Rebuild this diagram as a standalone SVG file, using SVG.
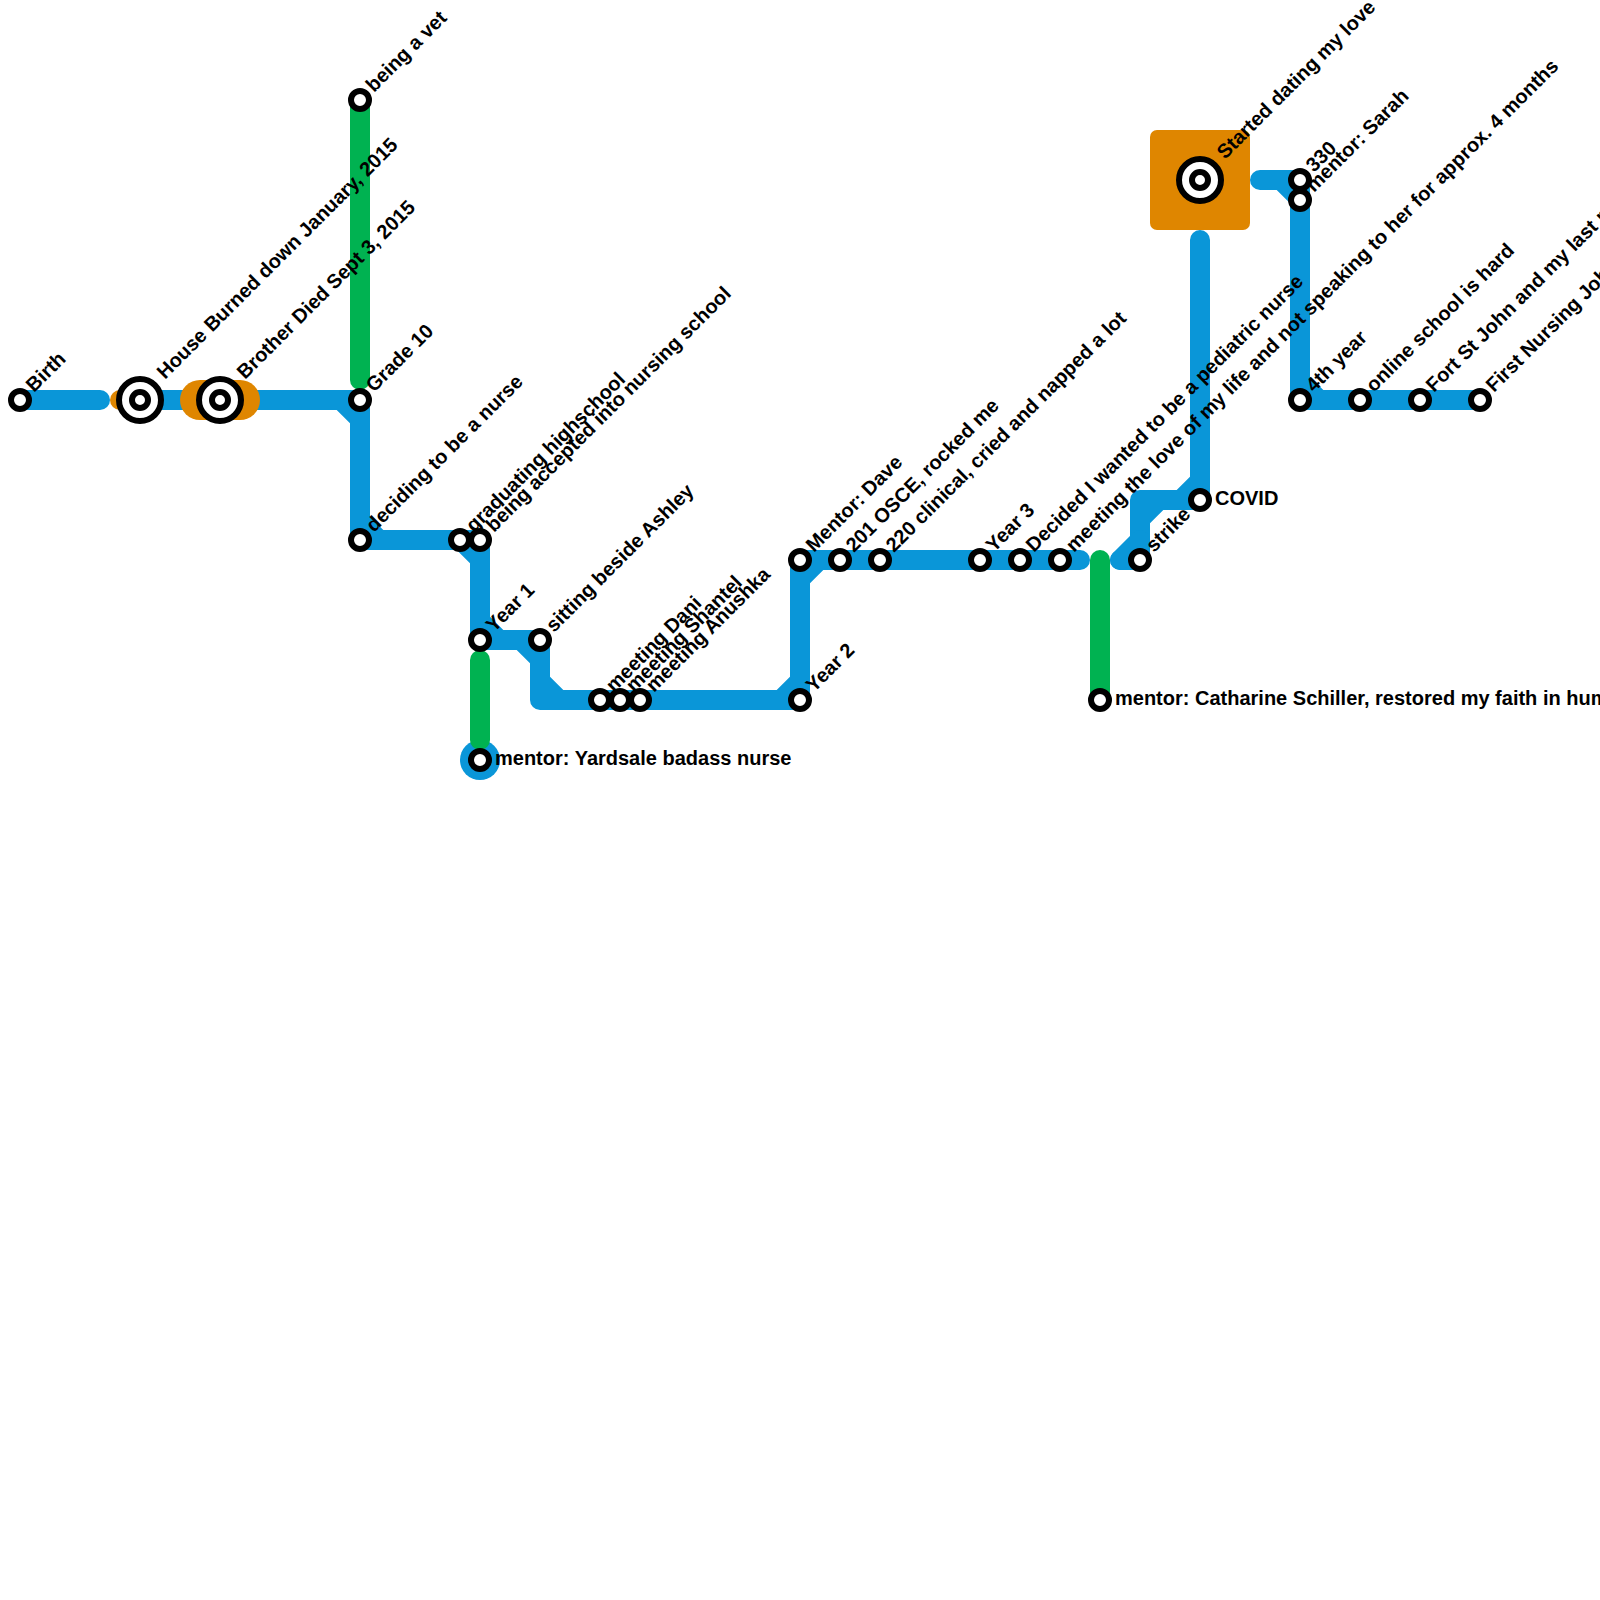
<svg xmlns="http://www.w3.org/2000/svg" width="1600" height="1600" viewBox="0 0 1600 1600">
<style>
.bl{fill:none;stroke:#0a96d8;stroke-width:20;stroke-linecap:round;stroke-linejoin:round}
.gr{fill:none;stroke:#00b251;stroke-width:20;stroke-linecap:round;stroke-linejoin:round}
.or{fill:none;stroke:#df8600;stroke-linecap:round;stroke-linejoin:round}
.fb{fill:#0a96d8}
.s{fill:#fff;stroke:#000;stroke-width:6}
text{font-family:"Liberation Sans",Arial,sans-serif;font-weight:700;font-size:20px;fill:#000}
</style>
<defs>
<g id="st"><circle class="s" r="9"/></g>
<g id="ix"><circle class="s" r="21"/><circle class="s" r="8"/></g>
</defs>
<g id="connectors">
<path class="bl" d="M20 400H100"/>
<path class="bl" d="M140 400H200"/>
<path class="bl" d="M240 400H360V540H480V640H540V700H800V560H1080"/>
<path class="bl" d="M1120 560H1140V500H1200V240"/>
<path class="bl" d="M1120 560L1140 540"/>
<path class="bl" d="M1260 180H1300V400H1480"/>
<path class="fb" d="M350 410V423.3L336.700 410ZM370 530V516.700L383.300 530ZM470 550V563.300L456.700 550ZM490 630V616.700L503.300 630ZM530 650V663.300L516.700 650ZM550 690V676.700L563.300 690ZM790 690V676.700L776.700 690ZM810 570V583.300L823.300 570ZM1150 510V523.300L1163.300 510ZM1190 490V476.700L1176.700 490ZM1290 190V203.300L1276.700 190ZM1310 390V376.700L1323.300 390Z"/>
<path class="or" stroke-width="20" d="M120 400H140"/>
<path class="or" stroke-width="40" d="M200 400H240"/>
<rect x="1150" y="130" width="100" height="100" rx="7" fill="#df8600"/>
<circle cx="480" cy="760" r="20" class="fb"/>
<path class="gr" d="M360 100V380"/>
<path class="gr" d="M480 660V740"/>
<path class="gr" d="M1100 560V700"/>
</g>
<g id="n1"><use href="#st" x="20" y="400"/><text transform="translate(34 393) rotate(-45)">Birth</text></g>
<g id="n2"><use href="#ix" x="140" y="400"/><text transform="translate(165 380) rotate(-45)">House Burned down January, 2015</text></g>
<g id="n3"><use href="#ix" x="220" y="400"/><text transform="translate(245 380) rotate(-45)">Brother Died Sept 3, 2015</text></g>
<g id="n4"><use href="#st" x="360" y="100"/><text transform="translate(374 93) rotate(-45)">being a vet</text></g>
<g id="n5"><use href="#st" x="360" y="400"/><text transform="translate(374 393) rotate(-45)">Grade 10</text></g>
<g id="n6"><use href="#st" x="360" y="540"/><text transform="translate(374 533) rotate(-45)">deciding to be a nurse</text></g>
<g id="n7"><use href="#st" x="460" y="540"/><text transform="translate(474 533) rotate(-45)">graduating highschool</text></g>
<g id="n8"><use href="#st" x="480" y="540"/><text transform="translate(494 533) rotate(-45)">being accepted into nursing school</text></g>
<g id="n9"><use href="#st" x="480" y="640"/><text transform="translate(494 633) rotate(-45)">Year 1</text></g>
<g id="n10"><use href="#st" x="540" y="640"/><text transform="translate(554 633) rotate(-45)">sitting beside Ashley</text></g>
<g id="n11"><use href="#st" x="480" y="760"/><text x="495" y="765">mentor: Yardsale badass nurse</text></g>
<g id="n12"><use href="#st" x="600" y="700"/><text transform="translate(614 693) rotate(-45)">meeting Dani</text></g>
<g id="n13"><use href="#st" x="620" y="700"/><text transform="translate(634 693) rotate(-45)">meeting Shantel</text></g>
<g id="n14"><use href="#st" x="640" y="700"/><text transform="translate(654 693) rotate(-45)">meeting Anushka</text></g>
<g id="n15"><use href="#st" x="800" y="700"/><text transform="translate(814 693) rotate(-45)">Year 2</text></g>
<g id="n16"><use href="#st" x="800" y="560"/><text transform="translate(814 553) rotate(-45)">Mentor: Dave</text></g>
<g id="n17"><use href="#st" x="840" y="560"/><text transform="translate(854 553) rotate(-45)">201 OSCE, rocked me</text></g>
<g id="n18"><use href="#st" x="880" y="560"/><text transform="translate(894 553) rotate(-45)">220 clinical, cried and napped a lot</text></g>
<g id="n19"><use href="#st" x="980" y="560"/><text transform="translate(994 553) rotate(-45)">Year 3</text></g>
<g id="n20"><use href="#st" x="1020" y="560"/><text transform="translate(1034 553) rotate(-45)">Decided I wanted to be a pediatric nurse</text></g>
<g id="n21"><use href="#st" x="1060" y="560"/><text transform="translate(1074 553) rotate(-45)">meeting the love of my life and not speaking to her for approx. 4 months</text></g>
<g id="n22"><use href="#st" x="1100" y="700"/><text x="1115" y="705">mentor: Catharine Schiller, restored my faith in humanity</text></g>
<g id="n23"><use href="#st" x="1140" y="560"/><text transform="translate(1154 553) rotate(-45)">strike</text></g>
<g id="n24"><use href="#st" x="1200" y="500"/><text x="1215" y="505">COVID</text></g>
<g id="n25"><use href="#ix" x="1200" y="180"/><text transform="translate(1225 160) rotate(-45)">Started dating my love</text></g>
<g id="n26"><use href="#st" x="1300" y="180"/><text transform="translate(1314 173) rotate(-45)">330</text></g>
<g id="n27"><use href="#st" x="1300" y="200"/><text transform="translate(1314 193) rotate(-45)">mentor: Sarah</text></g>
<g id="n28"><use href="#st" x="1300" y="400"/><text transform="translate(1314 393) rotate(-45)">4th year</text></g>
<g id="n29"><use href="#st" x="1360" y="400"/><text transform="translate(1374 393) rotate(-45)">online school is hard</text></g>
<g id="n30"><use href="#st" x="1420" y="400"/><text transform="translate(1434 393) rotate(-45)">Fort St John and my last r</text></g>
<g id="n31"><use href="#st" x="1480" y="400"/><text transform="translate(1494 393) rotate(-45)">First Nursing Job</text></g>
</svg>
